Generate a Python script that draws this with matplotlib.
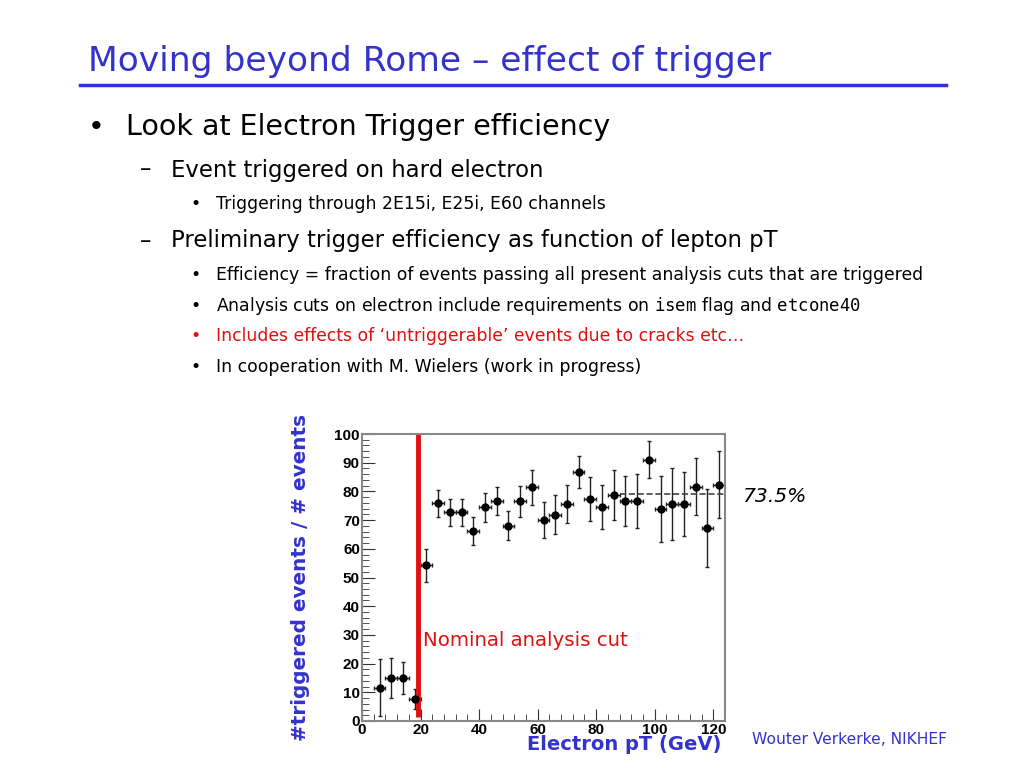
import matplotlib.pyplot as plt
from matplotlib.ticker import MultipleLocator

# trigger efficiency per 4 GeV bin of electron pT
pt_bins = [6, 10, 14, 18, 22, 26, 30, 34, 38, 42, 46, 50, 54, 58, 62,
           66, 70, 74, 78, 82, 86, 90, 94, 98, 102, 106, 110, 114, 118, 122]
efficiency = [11.6, 15.1, 15.1, 7.6, 54.3, 75.8, 72.7, 72.7, 66.3, 74.4,
              76.7, 68.0, 76.5, 81.4, 70.1, 71.9, 75.6, 86.9, 77.3, 74.6,
              78.8, 76.5, 76.7, 91.0, 73.8, 75.6, 75.6, 81.6, 67.2, 82.3]
eff_err = [10.0, 7.0, 5.6, 3.4, 5.8, 4.8, 4.7, 4.7, 4.9, 5.0,
           4.9, 5.0, 5.4, 6.2, 6.2, 6.9, 6.5, 5.6, 7.7, 7.7,
           8.7, 8.7, 9.3, 6.4, 11.5, 12.5, 11.0, 9.9, 13.6, 11.7]
bin_half = 2
cut_pt = 19.1
plateau = 79
plateau_range = [88, 124]

blue = '#3333cc'
red = '#e01010'

plt.rcParams['font.family'] = ['DejaVu Sans']

fig = plt.figure(figsize=(10.24, 7.68), dpi=100)

def px(x, y):
    return x / 1024, 1 - y / 768

#slide title and underline
fig.text(*px(88, 62), 'Moving beyond Rome \u2013 effect of trigger', color=blue,
         fontsize=24.8, va='center', ha='left')
fig.add_artist(plt.Line2D([80 / 1024, 946 / 1024], [1 - 85 / 768, 1 - 85 / 768],
                          color=blue, lw=2.5))

#bullets
big, mid, small = 20.5, 16.4, 12.4
fig.text(*px(88, 127), '\u2022', fontsize=big, va='center')
fig.text(*px(126, 127), 'Look at Electron Trigger efficiency', fontsize=big, va='center')
fig.text(*px(140, 170), '\u2013', fontsize=mid, va='center')
fig.text(*px(171, 170), 'Event triggered on hard electron', fontsize=mid, va='center')
fig.text(*px(190, 204), '\u2022', fontsize=small, va='center')
fig.text(*px(216, 204), 'Triggering through 2E15i, E25i, E60 channels', fontsize=small, va='center')
fig.text(*px(140, 241), '\u2013', fontsize=mid, va='center')
fig.text(*px(171, 241), 'Preliminary trigger efficiency as function of lepton pT', fontsize=mid, va='center')
fig.text(*px(190, 275), '\u2022', fontsize=small, va='center')
fig.text(*px(216, 275), 'Efficiency = fraction of events passing all present analysis cuts that are triggered',
         fontsize=small, va='center')
fig.text(*px(190, 306), '\u2022', fontsize=small, va='center')
fig.text(*px(216, 306), r'Analysis cuts on electron include requirements on $\mathtt{isem}$ flag and $\mathtt{etcone40}$',
         fontsize=small, va='center')
fig.text(*px(190, 336), '\u2022', fontsize=small, va='center', color=red)
fig.text(*px(216, 336), 'Includes effects of \u2018untriggerable\u2019 events due to cracks etc\u2026',
         fontsize=small, va='center', color=red)
fig.text(*px(190, 367), '\u2022', fontsize=small, va='center')
fig.text(*px(216, 367), 'In cooperation with M. Wielers (work in progress)', fontsize=small, va='center')

#efficiency plot
ax = fig.add_axes([362 / 1024, 1 - 721 / 768, (725 - 362) / 1024, (721 - 434) / 768])
ax.errorbar(pt_bins, efficiency, xerr=bin_half, yerr=eff_err, fmt='o', color='black',
            ms=5, elinewidth=1, ecolor='#222222', capsize=1.5, capthick=1)
ax.plot([cut_pt, cut_pt], [1.5, 100], color=red, lw=3.5, solid_capstyle='butt')
ax.plot(plateau_range, [plateau, plateau], '--', color='#444444', lw=1.2)
ax.set_xlim(0, 124)
ax.set_ylim(0, 100)
ax.xaxis.set_major_locator(MultipleLocator(20))
ax.xaxis.set_minor_locator(MultipleLocator(4))
ax.yaxis.set_major_locator(MultipleLocator(10))
ax.yaxis.set_minor_locator(MultipleLocator(2))
ax.tick_params(which='both', direction='in', top=False, right=False, color='#333333')
ax.tick_params(which='major', length=9, labelsize=11, pad=1.5)
ax.tick_params(which='minor', length=5)
for lab in ax.get_xticklabels() + ax.get_yticklabels():
    lab.set_fontweight('bold')
    lab.set_family(['Liberation Sans', 'DejaVu Sans'])
for sp in ax.spines.values():
    sp.set_color('#888888')
    sp.set_linewidth(1.5)

ax.text(21, 28, 'Nominal analysis cut', color=red, fontsize=14.2, va='center')

fig.text(*px(300, 577), '#triggered events / # events', color=blue, fontsize=14.4,
         fontweight='bold', rotation=90, va='center', ha='center')
fig.text(*px(624, 745), 'Electron pT (GeV)', color=blue, fontsize=14,
         fontweight='bold', va='center', ha='center')
fig.text(*px(742, 496), '73.5%', fontsize=14.6, style='italic', va='center')
fig.text(*px(752, 740), 'Wouter Verkerke, NIKHEF', color=blue, fontsize=11.2, va='center')

fig.savefig('out.png', dpi=100)
